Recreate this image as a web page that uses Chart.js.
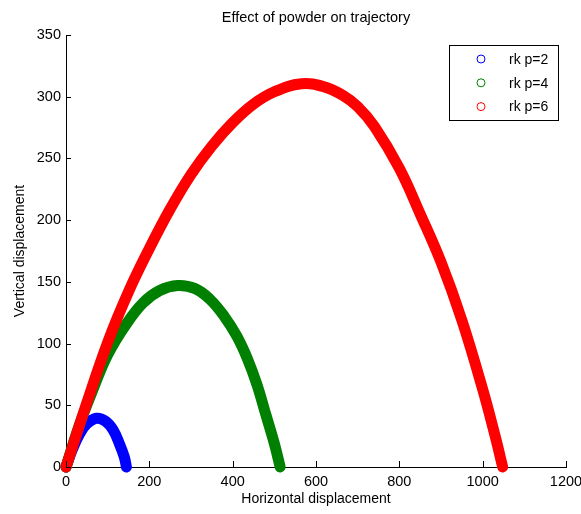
<!DOCTYPE html>
<html><head><meta charset="utf-8">
<script src="https://cdn.jsdelivr.net/npm/chart.js@4/dist/chart.umd.min.js"></script>
<style>html,body{margin:0;padding:0;background:#fff}#wrap{width:581px;height:514px}</style>
</head><body><div id="wrap"><canvas id="c" width="581" height="514"></canvas></div>
<script>
const chartTitle = 'Effect of powder on trajectory';
const xAxisTitle = 'Horizontal displacement';
const yAxisTitle = 'Vertical displacement';
const seriesNames = ['rk p=2', 'rk p=4', 'rk p=6'];
const seriesColors = ['#0000ff', '#008000', '#ff0000'];

const p2X = [0, 15, 33, 50, 73, 95, 113, 128, 140, 145];
const p2Y = [0, 14, 27, 35, 39.5, 37, 30, 19, 8, 0];

const p4X = [0, 30, 65, 100, 145, 185, 225, 268, 310, 345, 380, 410, 435, 458, 480, 500, 514];
const p4Y = [0, 32, 63, 91, 116, 133, 143, 147, 144.5, 136, 122, 106, 88, 67, 42, 19, 0];

const p6X = [0, 50, 100, 150, 200, 250, 300, 350, 400, 450, 500, 565, 620, 665, 700, 740, 800, 850, 900, 950, 1000, 1030, 1048];
const p6Y = [0, 52, 101, 142, 177, 209, 237, 260, 279, 294, 304, 310.5, 308, 301, 292, 276, 242, 205, 166, 119, 63, 25, 0];

const xTicks = [0, 200, 400, 600, 800, 1000, 1200];
const yTicks = [0, 50, 100, 150, 200, 250, 300, 350];

const FONT = "'Liberation Sans', Arial, sans-serif";
const toPts = (xs, ys) => xs.map((x, i) => ({x: x, y: ys[i]}));
const seriesData = [toPts(p2X, p2Y), toPts(p4X, p4Y), toPts(p6X, p6Y)];

const legendBox = {
  id: 'legendBox',
  afterDraw(chart) {
    const ctx = chart.ctx, a = chart.chartArea;
    const w = 109, h = 75;
    const left = a.right - 8 - w, top = a.top + 10;
    ctx.save();
    ctx.fillStyle = '#fff';
    ctx.fillRect(left, top, w, h);
    ctx.strokeStyle = '#000';
    ctx.lineWidth = 1;
    ctx.strokeRect(Math.round(left) + 0.5, Math.round(top) + 0.5, w, h);
    ctx.font = '14px ' + FONT;
    ctx.textBaseline = 'middle';
    ctx.textAlign = 'left';
    seriesNames.forEach((name, i) => {
      const cy = top + 14 + i * 23.8;
      ctx.beginPath();
      ctx.arc(left + 32, cy, 4, 0, Math.PI * 2);
      ctx.strokeStyle = seriesColors[i];
      ctx.stroke();
      ctx.fillStyle = '#000';
      ctx.fillText(name, left + 60, cy + 1);
    });
    ctx.restore();
  }
};

const inwardTicks = {
  id: 'inwardTicks',
  afterDraw(chart) {
    const ctx = chart.ctx, xs = chart.scales.x, ys = chart.scales.y, a = chart.chartArea;
    ctx.save();
    ctx.strokeStyle = '#000';
    ctx.lineWidth = 1;
    ctx.beginPath();
    xTicks.forEach(v => {
      const px = Math.round(xs.getPixelForValue(v)) + 0.5;
      ctx.moveTo(px, a.bottom);
      ctx.lineTo(px, a.bottom - 6);
    });
    yTicks.forEach(v => {
      const py = Math.round(ys.getPixelForValue(v)) + 0.5;
      ctx.moveTo(a.left, py);
      ctx.lineTo(a.left + 5, py);
    });
    ctx.stroke();
    ctx.restore();
  }
};

new Chart(document.getElementById('c'), {
  type: 'scatter',
  data: {
    datasets: seriesData.map((d, i) => ({
      label: seriesNames[i],
      data: d,
      showLine: true,
      borderColor: seriesColors[i],
      backgroundColor: seriesColors[i],
      borderWidth: 11,
      borderCapStyle: 'round',
      borderJoinStyle: 'round',
      pointRadius: 0,
      pointHoverRadius: 0,
      tension: 0.4,
      clip: false,
      order: 2 - i
    }))
  },
  options: {
    responsive: false,
    animation: false,
    devicePixelRatio: 1,
    layout: {padding: {left: 0, right: 15, top: 0, bottom: 0}},
    plugins: {
      legend: {display: false},
      tooltip: {enabled: false},
      title: {
        display: true,
        text: chartTitle,
        fullSize: false,
        color: '#000',
        font: {family: FONT, size: 14.5, weight: 'normal', lineHeight: 1.2},
        padding: {top: 9, bottom: 8.6}
      }
    },
    scales: {
      x: {
        type: 'linear', min: 0, max: 1200,
        afterBuildTicks: s => { s.ticks = xTicks.map(v => ({value: v})); },
        afterFit: s => { s.height = 47; s.paddingLeft = 0; s.paddingRight = 0; },
        ticks: {color: '#000', font: {family: FONT, size: 14.5}, padding: 6, maxRotation: 0, autoSkip: false, callback: v => String(v)},
        grid: {display: false, drawTicks: false, tickLength: 0},
        border: {display: true, color: '#000', width: 1},
        title: {display: true, text: xAxisTitle, color: '#000', font: {family: FONT, size: 14, lineHeight: 1.2}, padding: {top: 0, bottom: 6}}
      },
      y: {
        type: 'linear', min: 0, max: 350,
        afterBuildTicks: s => { s.ticks = yTicks.map(v => ({value: v})); },
        afterFit: s => { s.width = 66; s.paddingTop = 0; s.paddingBottom = 0; },
        ticks: {color: '#000', font: {family: FONT, size: 14.5}, padding: 5, autoSkip: false, callback: v => String(v)},
        grid: {display: false, drawTicks: false, tickLength: 0},
        border: {display: true, color: '#000', width: 1},
        title: {display: true, text: yAxisTitle, color: '#000', font: {family: FONT, size: 14, lineHeight: 1.2}, padding: {top: 11.6, bottom: 0}}
      }
    }
  },
  plugins: [legendBox, inwardTicks]
});
</script></body></html>
